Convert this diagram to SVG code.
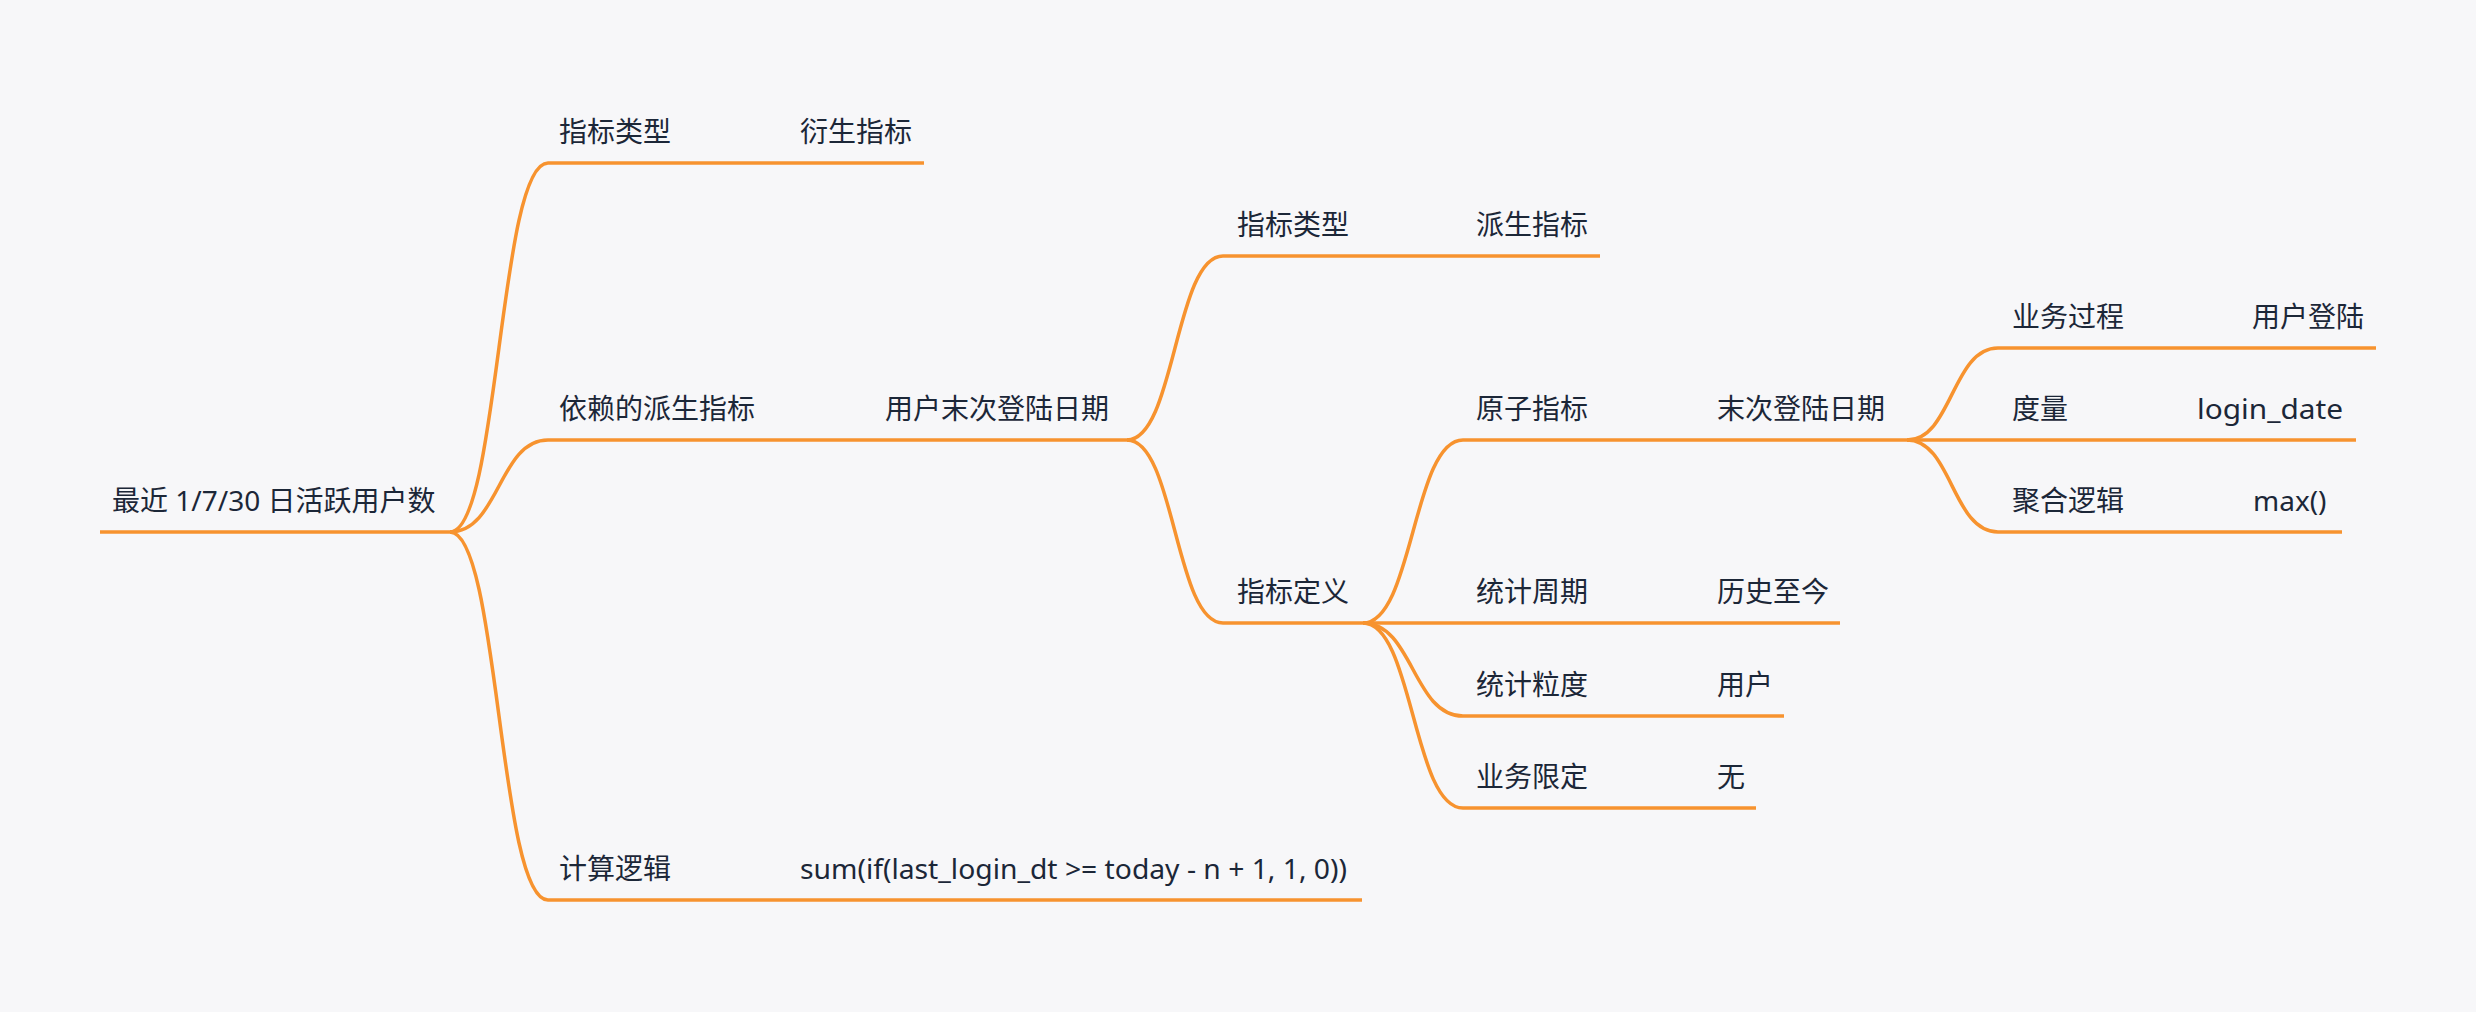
<svg xmlns="http://www.w3.org/2000/svg" width="2476" height="1012" viewBox="0 0 2476 1012">
  <style>
    .bg { fill: #f7f7f9; }
    .t { font-family: "Noto Sans", "Noto Sans CJK SC", sans-serif; font-size: 28px; fill: #1c2738; }
    .u { stroke: #f7932f; stroke-width: 3.5; fill: none; stroke-linecap: butt; }
    .c { stroke: #f7932f; stroke-width: 3.5; fill: none; }
  </style>
  <rect class="bg" x="0" y="0" width="2476" height="1012"/>

  <!-- curved branches: M junction C midX jy, midX cy, corner -->
  <g id="connectors">
    <path class="c" d="M450 532 C499 532 499 163 548 163"/>
    <path class="c" d="M450 532 C499 532 499 440 548 440"/>
    <path class="c" d="M450 532 C499 532 499 900 548 900"/>
    <path class="c" d="M1127 440 C1175 440 1175 256 1223 256"/>
    <path class="c" d="M1127 440 C1175 440 1175 623 1223 623"/>
    <path class="c" d="M1363 623 C1413 623 1413 440 1463 440"/>
    <path class="c" d="M1363 623 C1413 623 1413 716 1463 716"/>
    <path class="c" d="M1363 623 C1413 623 1413 808 1463 808"/>
    <path class="c" d="M1907 440 C1952 440 1952 348 1998 348"/>
    <path class="c" d="M1907 440 C1952 440 1952 532 1998 532"/>
  </g>

  <!-- root -->
  <g id="root">
    <line class="u" x1="100" y1="532" x2="452" y2="532"/>
    <text class="t" x="112" y="511">最近 1/7/30 日活跃用户数</text>
  </g>

  <!-- first level -->
  <g id="n-type">
    <line class="u" x1="548" y1="163" x2="924" y2="163"/>
    <text class="t" x="559" y="142">指标类型</text>
    <text class="t" x="800" y="142">衍生指标</text>
  </g>
  <g id="n-depend">
    <line class="u" x1="548" y1="440" x2="1129" y2="440"/>
    <text class="t" x="559" y="419">依赖的派生指标</text>
    <text class="t" x="885" y="419">用户末次登陆日期</text>
  </g>
  <g id="n-calc">
    <line class="u" x1="548" y1="900" x2="1362" y2="900"/>
    <text class="t" x="559" y="879">计算逻辑</text>
    <text class="t" x="800" y="879" textLength="547" lengthAdjust="spacingAndGlyphs">sum(if(last_login_dt &gt;= today - n + 1, 1, 0))</text>
  </g>

  <!-- derived metric details -->
  <g id="n-derived-type">
    <line class="u" x1="1223" y1="256" x2="1600" y2="256"/>
    <text class="t" x="1237" y="235">指标类型</text>
    <text class="t" x="1476" y="235">派生指标</text>
  </g>
  <g id="n-definition">
    <line class="u" x1="1223" y1="623" x2="1365" y2="623"/>
    <text class="t" x="1237" y="602">指标定义</text>
  </g>

  <!-- definition items -->
  <g id="n-atomic">
    <line class="u" x1="1463" y1="440" x2="1909" y2="440"/>
    <text class="t" x="1476" y="419">原子指标</text>
    <text class="t" x="1717" y="419">末次登陆日期</text>
  </g>
  <g id="n-period">
    <line class="u" x1="1363" y1="623" x2="1840" y2="623"/>
    <text class="t" x="1476" y="602">统计周期</text>
    <text class="t" x="1717" y="602">历史至今</text>
  </g>
  <g id="n-grain">
    <line class="u" x1="1463" y1="716" x2="1784" y2="716"/>
    <text class="t" x="1476" y="695">统计粒度</text>
    <text class="t" x="1717" y="695">用户</text>
  </g>
  <g id="n-limit">
    <line class="u" x1="1463" y1="808" x2="1756" y2="808"/>
    <text class="t" x="1476" y="787">业务限定</text>
    <text class="t" x="1717" y="787">无</text>
  </g>

  <!-- atomic metric items -->
  <g id="n-process">
    <line class="u" x1="1998" y1="348" x2="2376" y2="348"/>
    <text class="t" x="2012" y="327">业务过程</text>
    <text class="t" x="2252" y="327">用户登陆</text>
  </g>
  <g id="n-measure">
    <line class="u" x1="1907" y1="440" x2="2356" y2="440"/>
    <text class="t" x="2012" y="419">度量</text>
    <text class="t" x="2197" y="419" textLength="146" lengthAdjust="spacingAndGlyphs">login_date</text>
  </g>
  <g id="n-agg">
    <line class="u" x1="1998" y1="532" x2="2342" y2="532"/>
    <text class="t" x="2012" y="511">聚合逻辑</text>
    <text class="t" x="2253" y="511">max()</text>
  </g>
</svg>
